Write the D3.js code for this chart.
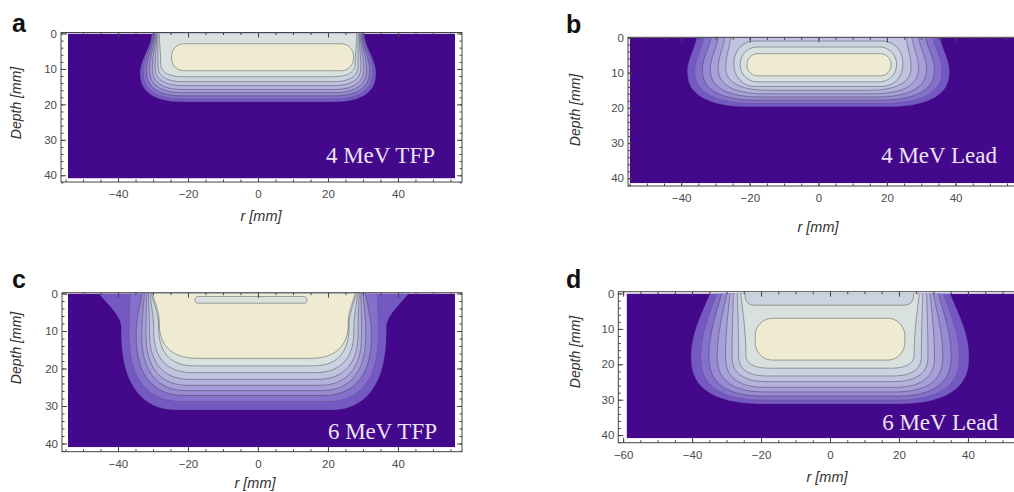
<!DOCTYPE html>
<html>
<head>
<meta charset="utf-8">
<script src="https://cdn.jsdelivr.net/npm/d3@7"></script>
<style>
  body { margin: 0; background: #fff; }
  text { font-family: "Liberation Sans", Arial, sans-serif; }
</style>
</head>
<body>
<script>
// contour levels (relative dose) and the fill used inside each level
const contourLevels = [0.1, 0.2, 0.3, 0.4, 0.5, 0.6, 0.7, 0.8, 0.9];
const bandColors = ['#7459c2', '#8571cb', '#978bd3', '#a79fd9', '#b4b1dd',
                    '#c0c3df', '#ccd3e0', '#d8e1de', '#efebd3'];
const backColor = '#44088c';

const xTickLabels = [-60, -40, -20, 0, 20, 40, 60];
const yTickLabels = [0, 10, 20, 30, 40];

// panel a : 4 MeV TFP  (mm; r = radius, depth)
const aLevels    = [0.1, 0.2, 0.3, 0.4, 0.5, 0.6, 0.7, 0.8];
const aTopR      = [30.4, 30.1, 29.8, 29.5, 29.2, 28.9, 28.6, 28.2];
const aMaxR      = [33.7, 32.8, 31.9, 31.0, 30.2, 29.4, 28.6, 27.8];
const aMaxDepth  = [11.0, 10.7, 10.4, 10.1, 9.8, 9.4, 9.0, 8.3];
const aBottom    = [19.3, 18.4, 17.6, 16.7, 15.8, 14.7, 13.6, 12.2];
const aFlatR     = [21, 21, 21, 21, 21, 21, 21, 21];
const aIslandLevels = [0.9];
const aIslandMid    = [1.3];
const aIslandHalf   = [26.0];
const aIslandTop    = [2.9];
const aIslandBottom = [10.5];
const aIslandRound  = [3.5];

// panel b : 4 MeV Lead
const bLevels    = [0.1, 0.2, 0.3, 0.4, 0.5, 0.6];
const bTopR      = [35.5, 33.5, 31.3, 29.2, 27.3, 25.6];
const bMaxR      = [38.2, 36.0, 33.8, 31.5, 29.2, 27.0];
const bMaxDepth  = [9.5, 9.3, 9.0, 8.8, 8.5, 8.2];
const bBottom    = [19.7, 18.7, 17.8, 16.9, 16.0, 15.0];
const bFlatR     = [19, 18, 17, 16, 15, 14];
const bIslandLevels = [0.7, 0.8, 0.9];
const bIslandMid    = [0, 0, 0.2];
const bIslandHalf   = [24.6, 22.8, 21.0];
const bIslandTop    = [1.0, 2.7, 4.6];
const bIslandBottom = [13.9, 12.6, 10.9];
const bIslandRound  = [6, 5, 3.1];

// panel c : 6 MeV TFP
const cLevels    = [0.1, 0.2, 0.3, 0.4, 0.5, 0.6, 0.7, 0.8, 0.9];
const cTopR      = [44.3, 35.3, 31.9, 31.2, 30.6, 30.1, 29.7, 29.3, 29.0];
const cMaxR      = [37.9, 35.6, 33.6, 32.0, 30.8, 29.8, 28.6, 27.2, 27.0];
const cMaxDepth  = [9.0, 10.0, 10.5, 10.5, 10.5, 10.0, 9.5, 8.5, 7.5];
const cBottom    = [31.1, 28.8, 27.2, 25.9, 24.5, 22.9, 21.1, 19.3, 17.3];
const cFlatR     = [21, 20, 19, 18.5, 18, 17.5, 17, 16.5, 15.5];
const cHoleLevels = [0.9];
const cHoleMid    = [-2.0];
const cHoleHalf   = [16.0];
const cHoleTop    = [0.8];
const cHoleBottom = [2.6];
const cHoleRound  = [1.0];

// panel d : 6 MeV Lead
const dLevels    = [0.1, 0.2, 0.3, 0.4, 0.5, 0.6, 0.7, 0.8];
const dTopR      = [34.8, 32.8, 31.4, 29.9, 29.0, 28.0, 26.9, 25.9];
const dMaxR      = [40.3, 37.5, 35.1, 32.7, 30.3, 28.4, 26.5, 24.4];
const dMaxDepth  = [17.5, 17.5, 17.5, 17.5, 17.5, 17.5, 17.3, 17.0];
const dBottom    = [31.2, 30.1, 29.0, 27.8, 26.5, 24.9, 23.3, 21.1];
const dFlatR     = [18, 18, 18, 18, 18, 17.5, 17.5, 17];
const dIslandLevels = [0.9];
const dIslandMid    = [0];
const dIslandHalf   = [21.7];
const dIslandTop    = [7.0];
const dIslandBottom = [18.8];
const dIslandRound  = [5];
const dHoleLevels = [0.8];
const dHoleMid    = [-0.2];
const dHoleHalf   = [24.4];
const dHoleTop    = [-4];
const dHoleBottom = [3.3];
const dHoleRound  = [2.5];

const panels = [
  { letter: 'a', label: '4 MeV TFP', center: 0, ease: 0, power: 2.5,
    open: { levels: aLevels, topR: aTopR, maxR: aMaxR, maxDepth: aMaxDepth, bottom: aBottom, flatR: aFlatR },
    islands: { levels: aIslandLevels, mid: aIslandMid, half: aIslandHalf, top: aIslandTop, bottom: aIslandBottom, round: aIslandRound },
    holes: null,
    frame: [61, 462, 32.5, 182], xDom: [-56.3, 58.3], yDom: [-0.28, 41.9], fillX: [-54.3, 56.3], fillY: [0, 40.9],
    letterPos: [12, 32], labelPos: [435, 163], yTitle: [21, 103], xTitle: [261, 221] },
  { letter: 'b', label: '4 MeV Lead', center: 0, ease: 0.3, power: 2.5,
    open: { levels: bLevels, topR: bTopR, maxR: bMaxR, maxDepth: bMaxDepth, bottom: bBottom, flatR: bFlatR },
    islands: { levels: bIslandLevels, mid: bIslandMid, half: bIslandHalf, top: bIslandTop, bottom: bIslandBottom, round: bIslandRound },
    holes: null,
    frame: [628, 1030, 37.3, 186], xDom: [-55.5, 61.7], yDom: [-0.06, 42.2], fillX: [-55, 60], fillY: [0, 41.4],
    letterPos: [566, 33], labelPos: [997, 163], yTitle: [580, 110], xTitle: [818, 232] },
  { letter: 'c', label: '6 MeV TFP', center: -1.2, ease: 0.6, power: 2.5,
    open: { levels: cLevels, topR: cTopR, maxR: cMaxR, maxDepth: cMaxDepth, bottom: cBottom, flatR: cFlatR },
    islands: null,
    holes: { levels: cHoleLevels, mid: cHoleMid, half: cHoleHalf, top: cHoleTop, bottom: cHoleBottom, round: cHoleRound },
    frame: [62, 462, 292.7, 451.7], xDom: [-56, 58.3], yDom: [-0.21, 42.19], fillX: [-54.3, 56.3], fillY: [0, 41.0],
    letterPos: [12, 288], labelPos: [437, 439], yTitle: [21, 348], xTitle: [255, 488] },
  { letter: 'd', label: '6 MeV Lead', center: 0, ease: 0.7, power: 2.6,
    open: { levels: dLevels, topR: dTopR, maxR: dMaxR, maxDepth: dMaxDepth, bottom: dBottom, flatR: dFlatR },
    islands: { levels: dIslandLevels, mid: dIslandMid, half: dIslandHalf, top: dIslandTop, bottom: dIslandBottom, round: dIslandRound },
    holes: { levels: dHoleLevels, mid: dHoleMid, half: dHoleHalf, top: dHoleTop, bottom: dHoleBottom, round: dHoleRound },
    frame: [618.3, 1030, 291.7, 442.7], xDom: [-61.4, 58.0], yDom: [-0.51, 42.15], fillX: [-59, 56], fillY: [0, 40.9],
    letterPos: [566, 288], labelPos: [998, 430], yTitle: [580, 352], xTitle: [827, 482] }
];

const smooth = t => t * t * (3 - 2 * t);
const easeOut = t => 1 - (1 - t) * (1 - t);
const colorOf = level => bandColors[Math.round(level * 10) - 1];

// contour that leaves the surface, goes around the bottom and comes back up
function openContour(o, i, center, ease, power) {
  const rTop = o.topR[i], rMax = o.maxR[i], dMax = o.maxDepth[i];
  const dBot = o.bottom[i], rFlat = o.flatR[i];
  const right = [];
  for (let k = 0; k <= 30; k++) {
    const t = k / 30;
    const s = (1 - ease) * smooth(t) + ease * easeOut(t);
    right.push([rTop + (rMax - rTop) * s, t * dMax]);
  }
  for (let k = 1; k <= 30; k++) {
    const th = k / 30 * Math.PI / 2;
    right.push([rFlat + (rMax - rFlat) * Math.pow(Math.cos(th), 2 / power),
                dMax + (dBot - dMax) * Math.pow(Math.sin(th), 2 / power)]);
  }
  const down = right.map(([r, d]) => [-r, d]);
  const up = right.slice().reverse();
  return down.concat(up).map(([r, d]) => [center + r, d]);
}

// closed rounded contour
function closedContour(s, i) {
  const mid = s.mid[i], w = s.half[i], top = s.top[i], bot = s.bottom[i];
  const rho = Math.min(s.round[i], (bot - top) / 2, w);
  const corners = [
    [mid + w - rho, top + rho, -90], [mid + w - rho, bot - rho, 0],
    [mid - w + rho, bot - rho, 90], [mid - w + rho, top + rho, 180]
  ];
  const pts = [];
  corners.forEach(([cr, cd, a0]) => {
    for (let k = 0; k <= 12; k++) {
      const a = (a0 + k * 90 / 12) * Math.PI / 180;
      pts.push([cr + rho * Math.cos(a), cd + rho * Math.sin(a)]);
    }
  });
  return pts;
}

const svg = d3.select('body').append('svg')
  .attr('width', 1014)
  .attr('height', 492)
  .style('display', 'block');

svg.append('rect').attr('width', 1014).attr('height', 492).attr('fill', '#fff');

panels.forEach((p, pi) => {
  const [fx0, fx1, fy0, fy1] = p.frame;
  const x = d3.scaleLinear().domain(p.xDom).range([fx0, fx1]);
  const y = d3.scaleLinear().domain(p.yDom).range([fy0, fy1]);
  const line = d3.line().x(d => x(d[0])).y(d => y(d[1]));

  const g = svg.append('g');
  const clipId = 'clip' + pi;
  g.append('clipPath').attr('id', clipId)
    .append('rect')
      .attr('x', x(p.fillX[0]))
      .attr('y', y(p.fillY[0]))
      .attr('width', x(p.fillX[1]) - x(p.fillX[0]))
      .attr('height', y(p.fillY[1]) - y(p.fillY[0]));

  const plot = g.append('g').attr('clip-path', `url(#${clipId})`);
  plot.append('rect')
    .attr('x', x(p.fillX[0]))
    .attr('y', y(p.fillY[0]))
    .attr('width', x(p.fillX[1]) - x(p.fillX[0]))
    .attr('height', y(p.fillY[1]) - y(p.fillY[0]))
    .attr('fill', backColor);

  // gather shapes, draw from low level to high, holes right after their level
  const shapes = [];
  p.open.levels.forEach((lv, i) => {
    shapes.push({ order: lv, pts: openContour(p.open, i, p.center, p.ease, p.power), fill: colorOf(lv), closed: false });
  });
  if (p.islands) p.islands.levels.forEach((lv, i) => {
    shapes.push({ order: lv, pts: closedContour(p.islands, i), fill: colorOf(lv), closed: true });
  });
  if (p.holes) p.holes.levels.forEach((lv, i) => {
    shapes.push({ order: lv + 0.01, pts: closedContour(p.holes, i), fill: colorOf(lv - 0.1), closed: true });
  });
  shapes.sort((s1, s2) => s1.order - s2.order);

  plot.selectAll('path.band')
    .data(shapes)
    .join('path')
      .attr('class', 'band')
      .attr('d', s => line(s.pts) + 'Z')
      .attr('fill', s => s.fill);

  plot.selectAll('path.iso')
    .data(shapes)
    .join('path')
      .attr('class', 'iso')
      .attr('d', s => line(s.pts) + (s.closed ? 'Z' : ''))
      .attr('fill', 'none')
      .attr('stroke', '#3a3a3a')
      .attr('stroke-opacity', s => s.order < 0.25 ? 0.25 : 0.55)
      .attr('stroke-width', 0.8);

  plot.append('text')
    .attr('x', p.labelPos[0])
    .attr('y', p.labelPos[1])
    .attr('text-anchor', 'end')
    .style('font-family', '"Liberation Serif", "Times New Roman", serif')
    .style('font-size', '23px')
    .attr('fill', '#ece4f4')
    .text(p.label);

  // frame with inward ticks; labels only where they fit in the figure
  const xMajor = xTickLabels.filter(v => v >= p.xDom[0] && v <= p.xDom[1]);
  const xLabelled = xMajor.filter(v => x(v) < 1000);
  const xMinor = d3.range(-60, 61, 5).filter(v => v >= p.xDom[0] && v <= p.xDom[1]);
  const yMinor = d3.range(0, 43, 2);

  const axisStyle = sel => {
    sel.select('.domain').remove();
    sel.selectAll('line').attr('stroke', '#444');
    sel.selectAll('text')
      .attr('fill', '#4a4a4a')
      .style('font-size', '11.5px');
  };

  g.append('g').attr('transform', `translate(0,${fy1})`)
    .call(d3.axisBottom(x).tickValues(xMinor).tickSize(-2.5).tickFormat(''))
    .call(axisStyle);
  g.append('g').attr('transform', `translate(0,${fy1})`)
    .call(d3.axisBottom(x).tickValues(xMajor).tickSize(-5).tickFormat(''))
    .call(axisStyle);
  g.append('g').attr('transform', `translate(0,${fy1})`)
    .call(d3.axisBottom(x).tickValues(xLabelled).tickSize(0).tickPadding(8))
    .call(axisStyle);
  g.append('g').attr('transform', `translate(0,${fy0})`)
    .call(d3.axisTop(x).tickValues(xMinor).tickSize(-2.5).tickFormat(''))
    .call(axisStyle);
  g.append('g').attr('transform', `translate(0,${fy0})`)
    .call(d3.axisTop(x).tickValues(xMajor).tickSize(-5).tickFormat(''))
    .call(axisStyle);
  g.append('g').attr('transform', `translate(${fx0},0)`)
    .call(d3.axisLeft(y).tickValues(yMinor).tickSize(-2.5).tickFormat(''))
    .call(axisStyle);
  g.append('g').attr('transform', `translate(${fx0},0)`)
    .call(d3.axisLeft(y).tickValues(yTickLabels).tickSize(-5).tickPadding(4))
    .call(axisStyle);
  g.append('g').attr('transform', `translate(${fx1},0)`)
    .call(d3.axisRight(y).tickValues(yMinor).tickSize(-2.5).tickFormat(''))
    .call(axisStyle);
  g.append('g').attr('transform', `translate(${fx1},0)`)
    .call(d3.axisRight(y).tickValues(yTickLabels).tickSize(-5).tickFormat(''))
    .call(axisStyle);

  g.append('rect')
    .attr('x', fx0).attr('y', fy0)
    .attr('width', fx1 - fx0).attr('height', fy1 - fy0)
    .attr('fill', 'none')
    .attr('stroke', '#444')
    .attr('stroke-width', 1);

  // titles
  g.append('text')
    .attr('x', p.xTitle[0]).attr('y', p.xTitle[1])
    .attr('text-anchor', 'middle')
    .style('font-style', 'italic')
    .style('font-size', '14.5px')
    .attr('fill', '#333')
    .text('r [mm]');

  g.append('text')
    .attr('transform', `translate(${p.yTitle[0]},${p.yTitle[1]}) rotate(-90)`)
    .attr('text-anchor', 'middle')
    .style('font-style', 'italic')
    .style('font-size', '14px')
    .attr('fill', '#333')
    .text('Depth [mm]');

  g.append('text')
    .attr('x', p.letterPos[0]).attr('y', p.letterPos[1])
    .style('font-weight', 'bold')
    .style('font-size', '25px')
    .attr('fill', '#111')
    .text(p.letter);
});
</script>
</body>
</html>
